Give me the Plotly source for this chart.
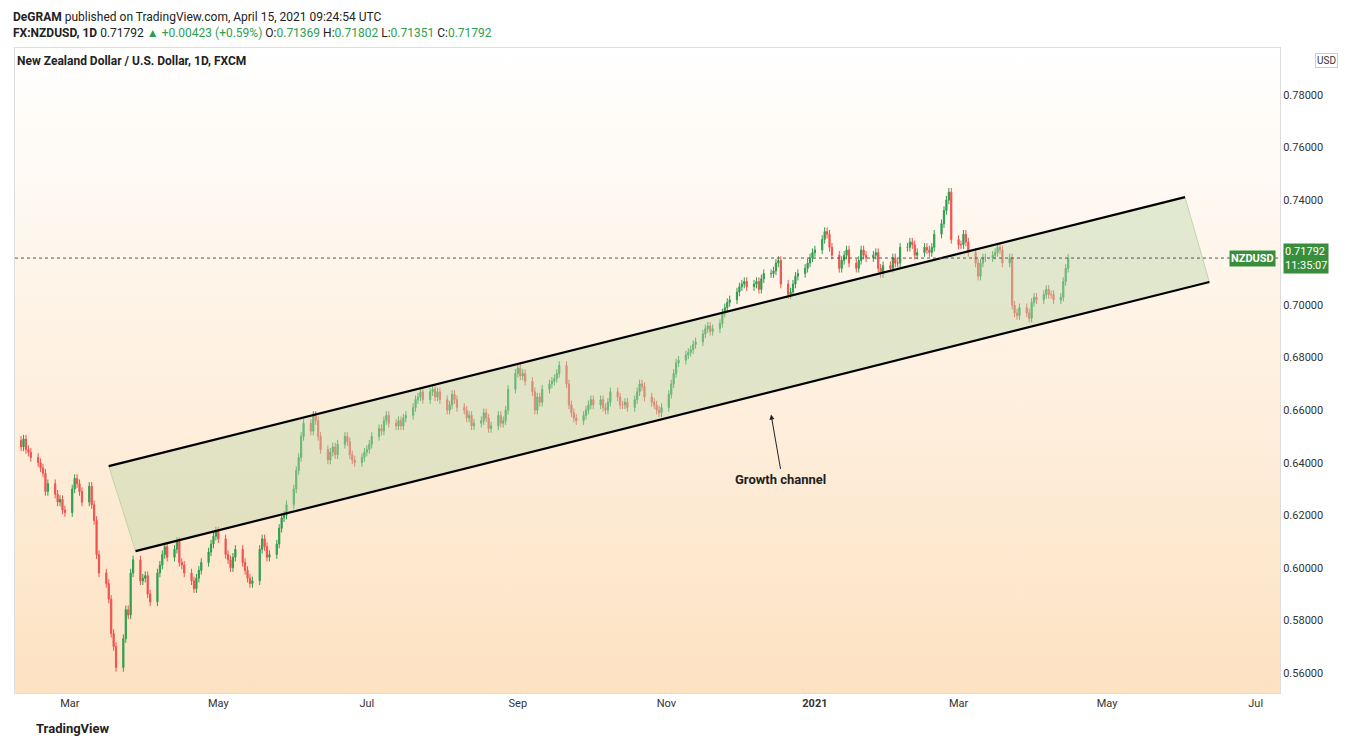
import pandas as pd
import plotly.graph_objects as go

closes = [
.646,.649,.645,.644,.642, .640,.638,.636,.629,.632, .628,.625,.626,.622,.621,
.630,.634,.632,.629,.625, .631,.624,.618,.605,.598, .594,.588,.575,.570,.562,
.573,.584,.582,.598,.603, .595,.596,.597,.590,.587, .598,.601,.605,.608,.604,
.607,.610,.602,.601,.598, .595,.592,.596,.599,.602, .606,.609,.612,.614,.611,
.605,.603,.600,.604,.607, .602,.599,.596,.594,.595, .607,.611,.608,.604,.605,
.609,.615,.619,.620,.624, .630,.637,.642,.650,.655, .652,.658,.656,.650,.645,
.641,.644,.646,.643,.647, .650,.648,.643,.641,.640, .642,.644,.645,.647,.650,
.653,.652,.656,.658,.655, .654,.656,.654,.657,.658, .661,.664,.665,.667,.664,
.667,.668,.665,.667,.664, .660,.662,.666,.664,.661, .660,.657,.658,.654,.655,
.656,.659,.657,.653,.654, .658,.655,.656,.660,.668, .674,.676,.673,.674,.671,
.667,.660,.665,.663,.668, .670,.671,.672,.674,.677, .670,.662,.659,.657,.656,
.658,.660,.662,.664,.662, .664,.661,.660,.663,.667, .665,.662,.662,.663,.661,
.664,.667,.670,.669,.665, .663,.662,.660,.659,.661, .666,.670,.674,.678,.679,
.681,.682,.683,.685,.686, .689,.691,.692,.690,.691, .693,.697,.699,.701,.702,
.705,.707,.708,.709,.707, .708,.709,.706,.710,.712, .712,.713,.716,.717,.708,
.704,.705,.708,.711,.712, .714,.716,.718,.720,.721, .725,.728,.727,.722,.719,
.714,.717,.719,.721,.716, .714,.717,.721,.719,.718, .719,.720,.714,.712,.715,
.714,.718,.716,.716,.722, .722,.724,.723,.719,.720, .722,.721,.720,.722,.727,
.731,.736,.740,.743,.725, .723,.723,.727,.724,.720, .716,.711,.716,.718,.718,
.719,.720,.722,.721,.716, .718,.700,.697,.696,.699, .697,.695,.701,.703,.702,
.704,.706,.704,.704,.702, .703,.709,.714,.71792]
first_open = 0.6485
wick = 0.0016

dates = pd.bdate_range("2020-02-10", periods=len(closes))
opens = [first_open] + closes[:-1]
highs = [max(o, c) + wick for o, c in zip(opens, closes)]
lows = [min(o, c) - wick for o, c in zip(opens, closes)]

upper_x = ["2020-03-17", "2021-06-02"]; upper_y = [0.6387, 0.7411]
lower_x = ["2020-03-28", "2021-06-12"]; lower_y = [0.6063, 0.7088]
last_price = 0.71792
yticks = [0.56, 0.58, 0.60, 0.62, 0.64, 0.66, 0.68, 0.70, 0.72, 0.74, 0.76, 0.78]

x0, x1 = "2020-02-07 12:00", "2021-07-11"
y0, y1 = 0.5523, 0.7979

fig = go.Figure()
fig.add_trace(go.Scatter(x=[0, 1, 1, 0, 0], y=[0, 0, 1, 1, 0], mode="none", xaxis="x", yaxis="y",
    fill="toself", fillgradient=dict(type="vertical", colorscale=[[0, "#fde2c2"], [1, "#ffffff"]]),
    hoverinfo="skip", showlegend=False))
kw = dict(xaxis="x2", yaxis="y2", showlegend=False)
fig.add_trace(go.Candlestick(x=dates, open=opens, high=highs, low=lows, close=closes,
    increasing=dict(line=dict(color="#2e9e4f", width=1), fillcolor="#2e9e4f"),
    decreasing=dict(line=dict(color="#ef5350", width=1), fillcolor="#ef5350"),
    whiskerwidth=0, **kw))
fig.add_trace(go.Scatter(x=[upper_x[0], upper_x[1], lower_x[1], lower_x[0], upper_x[0]],
    y=[upper_y[0], upper_y[1], lower_y[1], lower_y[0], upper_y[0]], mode="lines",
    fill="toself", fillcolor="rgba(190,215,170,0.45)", line=dict(color="rgba(160,200,140,0.6)", width=1),
    hoverinfo="skip", **kw))
fig.add_trace(go.Scatter(x=upper_x, y=upper_y, mode="lines", line=dict(color="black", width=2.2), **kw))
fig.add_trace(go.Scatter(x=lower_x, y=lower_y, mode="lines", line=dict(color="black", width=2.2), **kw))
fig.add_trace(go.Scatter(x=[x0, x1], y=[last_price, last_price], mode="lines",
    line=dict(color="#555", width=1, dash="dot"), hoverinfo="skip", **kw))

ticks = ["2020-03-01", "2020-05-01", "2020-07-01", "2020-09-01", "2020-11-01", "2021-01-01",
         "2021-03-01", "2021-05-01", "2021-07-01"]
labels = ["Mar", "May", "Jul", "Sep", "Nov", "<b>2021</b>", "Mar", "May", "Jul"]
fig.update_layout(
    width=1348, height=749, margin=dict(l=7, r=76, t=40, b=64),
    paper_bgcolor="white", plot_bgcolor="white",
    font=dict(family="Roboto, Arial", size=11, color="#333"),
    xaxis=dict(range=[0, 1], visible=False, fixedrange=True),
    yaxis=dict(range=[0, 1], visible=False, fixedrange=True),
    xaxis2=dict(overlaying="x", range=[x0, x1], tickvals=ticks, ticktext=labels, showgrid=False,
               rangeslider=dict(visible=False), showline=True, linecolor="#ddd", mirror=True, ticks=""),
    yaxis2=dict(overlaying="y", range=[y0, y1], side="right", tickvals=yticks, tickformat=".5f",
               showgrid=False, showline=True, linecolor="#ddd", mirror=True, ticks=""),
)
fig.add_annotation(xref="paper", yref="paper", x=-0.003, y=1.062, xanchor="left", showarrow=False,
    text="<b>DeGRAM</b> published on TradingView.com, April 15, 2021 09:24:54 UTC", font=dict(size=12, color="#222"))
fig.add_annotation(xref="paper", yref="paper", x=-0.003, y=1.037, xanchor="left", showarrow=False,
    text="<b>FX:NZDUSD, 1D</b> 0.71792 <span style='color:#2e9e4f'>▲ +0.00423 (+0.59%)</span> O:<span style='color:#2e9e4f'>0.71369</span> H:<span style='color:#2e9e4f'>0.71802</span> L:<span style='color:#2e9e4f'>0.71351</span> C:<span style='color:#2e9e4f'>0.71792</span>",
    font=dict(size=12, color="#222"))
fig.add_annotation(xref="paper", yref="paper", x=0.0, y=0.994, xanchor="left", showarrow=False,
    text="<b>New Zealand Dollar / U.S. Dollar, 1D, FXCM</b>", font=dict(size=12, color="#222"))
fig.add_annotation(xref="x2", yref="y2", x="2020-12-14", y=0.6583, ax="2020-12-18", ay=0.637,
    axref="x2", ayref="y2", text="", showarrow=True, arrowhead=2, arrowsize=1, arrowwidth=1, arrowcolor="#222")
fig.add_annotation(xref="x2", yref="y2", x="2020-12-18", y=0.6335, showarrow=False, text="<b>Growth channel</b>",
    font=dict(size=13, color="#222"))
fig.add_annotation(xref="paper", yref="y2", x=1.0, y=last_price, xanchor="right", showarrow=False,
    text="<b>NZDUSD</b>", bgcolor="#388e3c", font=dict(color="white", size=11), xshift=-4)
fig.add_annotation(xref="paper", yref="y2", x=1.002, y=last_price, xanchor="left", showarrow=False,
    text="0.71792<br>11:35:07", bgcolor="#388e3c", font=dict(color="white", size=11), align="left")
fig.add_annotation(xref="paper", yref="paper", x=1.028, y=0.992, xanchor="left", showarrow=False, text="USD",
    bordercolor="#ccc", borderwidth=1, font=dict(size=10))
fig.add_annotation(xref="paper", yref="paper", x=0.015, y=-0.07, xanchor="left", showarrow=False,
    text="<b>TradingView</b>", font=dict(size=13, color="#222"))
fig.write_html("out.html")
